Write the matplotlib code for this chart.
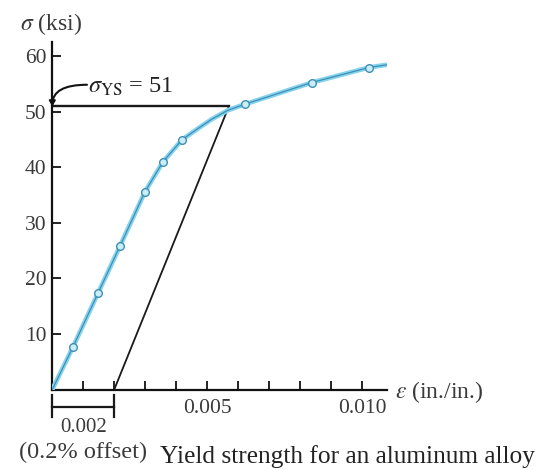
import matplotlib
matplotlib.use("Agg")
import matplotlib.pyplot as plt

# ---- data ----
strain = [0.0, 0.00067, 0.00148, 0.00219, 0.00299, 0.00357, 0.00419,
          0.00470, 0.00515, 0.00567, 0.00622, 0.00700, 0.00838, 0.01022, 0.01080]
stress = [0.0, 7.7, 17.4, 25.9, 35.6, 41.0, 45.0,
          47.0, 48.7, 50.3, 51.4, 52.8, 55.3, 58.0, 58.5]
marker_idx = [1, 2, 3, 4, 5, 6, 10, 12, 13]

yield_stress = 51
offset_strain = 0.002
yield_strain = 0.0057

y_ticks = [10, 20, 30, 40, 50, 60]
x_ticks = [0.001, 0.002, 0.003, 0.004, 0.005, 0.006, 0.007, 0.008, 0.009, 0.010]
x_tick_labels = ['', '', '', '', '0.005', '', '', '', '', '0.010']

# ---- figure ----
plt.rcParams['font.family'] = ['Liberation Serif', 'DejaVu Serif']
plt.rcParams['mathtext.fontset'] = 'stix'

W, H = 538, 470
fig = plt.figure(figsize=(W / 100, H / 100), dpi=100)
fig.patch.set_facecolor('white')
ax = fig.add_axes([52.3 / W, 80.5 / H, 334.5 / W, 347.5 / H])
ax.set_xlim(0, 0.0108)
ax.set_ylim(0, 62.6)

for s in ('top', 'right'):
    ax.spines[s].set_visible(False)
for s in ('left', 'bottom'):
    ax.spines[s].set_linewidth(1.6)
    ax.spines[s].set_color('#111111')

txt_col = '#3a3a3a'
ax.set_yticks(y_ticks)
ax.set_yticklabels([str(v) for v in y_ticks])
ax.set_xticks(x_ticks)
ax.set_xticklabels(x_tick_labels)
ax.tick_params(axis='both', direction='in', length=6.5, width=1.3,
               colors='#111111', labelcolor=txt_col, labelsize=15.5)
ax.tick_params(axis='y', pad=4)
ax.tick_params(axis='x', pad=7)

# offset line and yield line
ax.plot([offset_strain, yield_strain], [0, yield_stress], color='#1a1a1a', lw=1.3,
        solid_capstyle='butt', zorder=2)
ax.plot([0, yield_strain], [yield_stress, yield_stress], color='#1a1a1a', lw=1.7,
        zorder=2)

# stress-strain curve
ax.plot(strain, stress, color='#86d3ef', lw=3.4, solid_capstyle='round',
        solid_joinstyle='round', zorder=3)
ax.plot(strain, stress, color='#3f8fb3', lw=0.9, zorder=4,
        marker='o', markevery=marker_idx, markersize=5.5,
        markerfacecolor='#c9eef9', markeredgecolor='#3f8fb3', markeredgewidth=1.0)

# sigma_YS annotation
ax.text(0.00116, 54.6, r'$\sigma_{\mathrm{YS}}$ = 51', fontsize=17.5,
        color='#222222', va='center', ha='left', clip_on=False)
ax.annotate('', xy=(0, yield_stress), xytext=(0.00112, 54.9), textcoords='data',
            arrowprops=dict(arrowstyle='-|>,head_length=0.3,head_width=0.18',
                            connectionstyle='angle3,angleA=0,angleB=90',
                            color='#111111', lw=1.5, shrinkA=0, shrinkB=0),
            annotation_clip=False)

# axis labels
ax.text(-0.00104, 65.9, r'$\sigma$ (ksi)', fontsize=17, color=txt_col,
        ha='left', va='center', clip_on=False)
ax.text(0.01105, -0.5, r'$\epsilon$ (in./in.)', fontsize=17, color=txt_col,
        ha='left', va='center', clip_on=False)

# 0.002 dimension bracket
kw = dict(color='#1a1a1a', lw=1.6, clip_on=False)
ax.plot([0, 0], [-1.0, -5.0], **kw)
ax.plot([offset_strain, offset_strain], [-1.0, -5.0], **kw)
ax.plot([0, offset_strain], [-3.2, -3.2], **kw)
ax.text(offset_strain / 2, -6.9, '0.002', fontsize=15, color=txt_col,
        ha='center', va='center', clip_on=False)
ax.text(offset_strain / 2, -11.3, '(0.2% offset)', fontsize=17.5, color=txt_col,
        ha='center', va='center', clip_on=False)
ax.text(0.00348, -12.1, 'Yield strength for an aluminum alloy', fontsize=18.3,
        color='#222222', ha='left', va='center', clip_on=False)

fig.savefig('out.png', dpi=100, facecolor='white')
